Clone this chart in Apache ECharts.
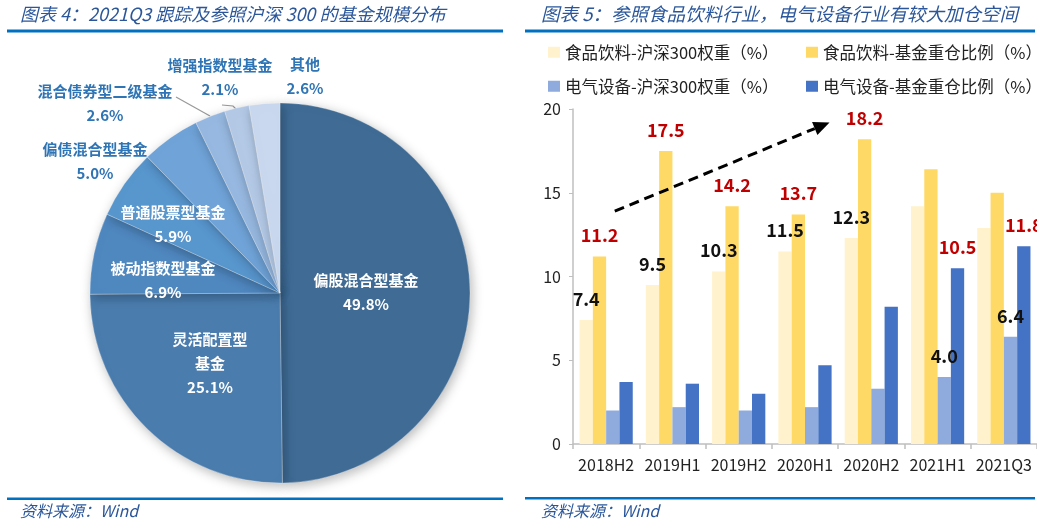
<!DOCTYPE html>
<html>
<head>
<meta charset="utf-8">
<script src="https://cdn.jsdelivr.net/npm/echarts@6/dist/echarts.min.js"></script>
<style>
html,body{margin:0;padding:0;background:#fff;}
#main{width:1037px;height:524px;}
</style>
</head>
<body>
<div id="main"></div>
<script>
// ---- Left chart data (pie) ----
const pieNames = ['偏股混合型基金', '灵活配置型\n基金', '被动指数型基金', '普通股票型基金', '偏债混合型基金', '混合债券型二级基金', '增强指数型基金', '其他'];
const pieValues = [49.8, 25.1, 6.9, 5.9, 5.0, 2.6, 2.1, 2.6];

// ---- Right chart data (bars) ----
const categories = ['2018H2', '2019H1', '2019H2', '2020H1', '2020H2', '2021H1', '2021Q3'];
const seriesNames = ['食品饮料-沪深300权重（%）', '食品饮料-基金重仓比例（%）', '电气设备-沪深300权重（%）', '电气设备-基金重仓比例（%）'];
const foodWeight = [7.4, 9.5, 10.3, 11.5, 12.3, 14.2, 12.9];
const foodFund = [11.2, 17.5, 14.2, 13.7, 18.2, 16.4, 15.0];
const elecWeight = [2.0, 2.2, 2.0, 2.2, 3.3, 4.0, 6.4];
const elecFund = [3.7, 3.6, 3.0, 4.7, 8.2, 10.5, 11.8];
const yTicks = [0, 5, 10, 15, 20];

// which points carry value labels
const foodLabeled = [0, 1, 2, 3, 4];
const elecLabeled = [5, 6];
// trend arrow, in data space (x = category index position, y = value)
const arrowFrom = [0.13, 13.9];
const arrowTo = [3.37, 19.2];

const FONT = '"Noto Sans CJK SC", "Noto Sans", sans-serif';
const chart = echarts.init(document.getElementById('main'), null, {renderer: 'canvas'});

// pie label placement (layout only)
const pieLabelPos = [[366, 292], [210, 363], [163, 280], [173, 224], [95, 161], [105, 103], [220, 77], [305, 76]];
const pieLabelLines = {5: [[176, 97], [210, 116]], 6: [[222, 105], [233, 106], [237, 110]]};
const pieColors = ['#3F6B95', '#4A7CAD', '#4F87BF', '#5896CE', '#70A3D8', '#97B8E0', '#B3C9E6', '#C9D8EE'];

function barSeries(name, data, color, labeled, labelColor) {
  return {
    name: name, type: 'bar', barWidth: 13.3, barGap: '0%',
    itemStyle: {color: color},
    data: data.map((v, i) => ({
      value: v,
      label: {show: labeled.indexOf(i) >= 0}
    })),
    label: {
      position: 'top', distance: 12, color: labelColor,
      fontFamily: FONT, fontWeight: 'bold', fontSize: 18,
      formatter: p => p.value.toFixed(1)
    }
  };
}

const legendPos = [[548, 44], [806, 44], [548, 78], [806, 78]];
const legendColors = ['#FFF2CC', '#FFD966', '#8FAADC', '#4472C4'];

function renderArrow(params, api) {
  const bw = api.size([1, 0])[0];
  const p0 = api.coord([0, api.value(1)]);
  const p1 = api.coord([0, api.value(3)]);
  const x0 = p0[0] + api.value(0) * bw, y0 = p0[1];
  const x1 = p1[0] + api.value(2) * bw, y1 = p1[1];
  const ang = Math.atan2(y1 - y0, x1 - x0);
  const L = 16, W = 7;
  const bx = x1 - L * Math.cos(ang), by = y1 - L * Math.sin(ang);
  const nx = -Math.sin(ang) * W, ny = Math.cos(ang) * W;
  return {
    type: 'group',
    children: [
      {type: 'line', shape: {x1: x0, y1: y0, x2: bx, y2: by},
       style: {stroke: '#000', lineWidth: 3, lineDash: [10, 6]}},
      {type: 'polygon', shape: {points: [[x1, y1], [bx + nx, by + ny], [bx - nx, by - ny]]},
       style: {fill: '#000'}}
    ]
  };
}

const option = {
  backgroundColor: '#fff',
  animation: false,
  textStyle: {fontFamily: FONT},
  legend: seriesNames.map((n, i) => ({
    data: [n], left: legendPos[i][0], top: legendPos[i][1], padding: 0,
    itemWidth: 12, itemHeight: 11, icon: 'rect',
    textStyle: {fontSize: 16.5, color: '#222', fontFamily: FONT}
  })),
  grid: {left: 573, top: 109, width: 466, height: 335, containLabel: false},
  xAxis: {
    type: 'category', data: categories,
    axisLine: {lineStyle: {color: '#BFBFBF', width: 1.5}},
    axisTick: {show: true, length: 5, interval: 0, lineStyle: {color: '#BFBFBF', width: 1.5}},
    axisLabel: {fontSize: 16, color: '#222', margin: 13, interval: 0, fontFamily: FONT},
    splitLine: {show: false}, splitArea: {show: false}
  },
  yAxis: {
    type: 'value', min: yTicks[0], max: yTicks[yTicks.length - 1], interval: 5,
    axisLine: {show: true, lineStyle: {color: '#BFBFBF', width: 1.5}},
    axisTick: {show: true, length: 4, lineStyle: {color: '#BFBFBF'}},
    splitLine: {show: false},
    axisLabel: {fontSize: 16, color: '#222', margin: 12, fontFamily: FONT}
  },
  series: [
    {
      type: 'pie', center: [280, 293], radius: 190, startAngle: 90, clockwise: true,
      avoidLabelOverlap: false,
      itemStyle: {borderColor: 'rgba(255,255,255,0.35)', borderWidth: 0.8, shadowBlur: 12, shadowColor: 'rgba(0,0,0,0.28)', shadowOffsetX: 2, shadowOffsetY: 3},
      data: pieValues.map((v, i) => ({
        name: pieNames[i], value: v,
        itemStyle: {color: pieColors[i]},
        label: {color: i < 4 ? '#fff' : '#2F75B5'},
        labelLine: {show: !!pieLabelLines[i], lineStyle: {color: '#999', width: 1.2}}
      })),
      label: {
        show: true, position: 'outside', fontSize: 15, fontWeight: 'bold', lineHeight: 24,
        fontFamily: FONT, align: 'center',
        formatter: p => p.name + '\n' + p.value.toFixed(1) + '%'
      },
      labelLine: {length: 5, length2: 5},
      labelLayout: function (params) {
        const i = params.dataIndex;
        const o = {x: pieLabelPos[i][0], y: pieLabelPos[i][1], align: 'center', verticalAlign: 'middle'};
        if (pieLabelLines[i]) o.labelLinePoints = pieLabelLines[i];
        return o;
      }
    },
    barSeries(seriesNames[0], foodWeight, legendColors[0], foodLabeled, '#111'),
    barSeries(seriesNames[1], foodFund, legendColors[1], foodLabeled, '#C00000'),
    barSeries(seriesNames[2], elecWeight, legendColors[2], elecLabeled, '#111'),
    barSeries(seriesNames[3], elecFund, legendColors[3], elecLabeled, '#C00000'),
    {
      type: 'custom', silent: true, clip: false,
      dimensions: ['fx', 'fy', 'tx', 'ty'],
      encode: {x: [], y: ['fy', 'ty']},
      renderItem: renderArrow,
      data: [[arrowFrom[0], arrowFrom[1], arrowTo[0], arrowTo[1]]],
      z: 10
    }
  ],
  graphic: [
    {type: 'text', style: {x: 20, y: 14, text: '图表 4：2021Q3 跟踪及参照沪深 300 的基金规模分布', font: 'italic 18px ' + FONT, fill: '#2B579A', verticalAlign: 'middle'}},
    {type: 'text', style: {x: 541, y: 14, text: '图表 5：参照食品饮料行业，电气设备行业有较大加仓空间', font: 'italic 18.5px ' + FONT, fill: '#2B579A', verticalAlign: 'middle'}},
    {type: 'rect', shape: {x: 7, y: 29.5, width: 496, height: 3}, style: {fill: '#0070C0'}},
    {type: 'rect', shape: {x: 525, y: 29.5, width: 510, height: 3}, style: {fill: '#0070C0'}},
    {type: 'rect', shape: {x: 7, y: 497.5, width: 496, height: 2.5}, style: {fill: '#0070C0'}},
    {type: 'rect', shape: {x: 525, y: 497, width: 510, height: 2.5}, style: {fill: '#0070C0'}},
    {type: 'text', style: {x: 20, y: 511, text: '资料来源：Wind', font: 'italic 16px ' + FONT, fill: '#2B579A', verticalAlign: 'middle'}},
    {type: 'text', style: {x: 541, y: 511, text: '资料来源：Wind', font: 'italic 16px ' + FONT, fill: '#2B579A', verticalAlign: 'middle'}}
  ]
};
chart.setOption(option);
</script>
</body>
</html>
